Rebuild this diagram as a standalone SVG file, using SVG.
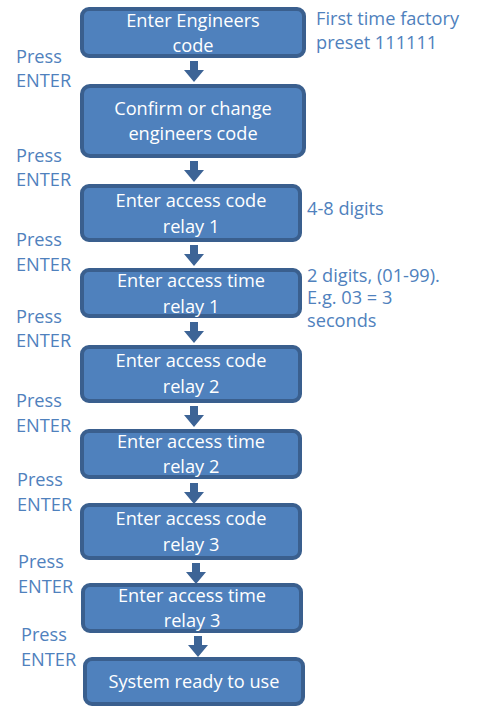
<svg xmlns="http://www.w3.org/2000/svg" width="478" height="706" viewBox="0 0 478 706">
<style>
.box{fill:#4F81BD;stroke:#3A5F8E;stroke-width:4}
.bt{font-family:"Open Sans","Liberation Sans",sans-serif;font-size:18.2px;fill:#FFFFFF;text-anchor:middle}
.lb{font-family:"Open Sans","Liberation Sans",sans-serif;font-size:18.2px;fill:#4F81BD}
.arr{fill:#3D6496}
</style>
<defs>
<path id="ar" d="M-4,0 H4 V9 H10 L0,21 L-10,9 H-4 Z"/>
</defs>
<rect width="478" height="706" fill="#FFFFFF"/>
<g id="connectors">
<use href="#ar" class="arr" x="194" y="61"/>
<use href="#ar" class="arr" x="194" y="161"/>
<use href="#ar" class="arr" x="194" y="245"/>
<use href="#ar" class="arr" x="194" y="322"/>
<use href="#ar" class="arr" x="194" y="406"/>
<use href="#ar" class="arr" x="194" y="483"/>
<use href="#ar" class="arr" x="196" y="563"/>
<use href="#ar" class="arr" x="198" y="636"/>
</g>
<g id="n1"><rect class="box" x="82" y="9" width="222" height="47" rx="7"/><text class="bt" x="193" y="27">Enter Engineers</text><text class="bt" x="193" y="52">code</text></g>
<g id="n2"><rect class="box" x="82" y="86" width="222" height="70" rx="8"/><text class="bt" x="193" y="115">Confirm or change</text><text class="bt" x="193" y="140">engineers code</text></g>
<g id="n3"><rect class="box" x="82" y="186" width="218" height="54" rx="7"/><text class="bt" x="191" y="207">Enter access code</text><text class="bt" x="191" y="233">relay 1</text></g>
<g id="n4"><rect class="box" x="82" y="270" width="218" height="46" rx="7"/><text class="bt" x="191" y="287">Enter access time</text><text class="bt" x="191" y="313">relay 1</text></g>
<g id="n5"><rect class="box" x="82" y="347" width="218" height="54" rx="7"/><text class="bt" x="191" y="367">Enter access code</text><text class="bt" x="191" y="393">relay 2</text></g>
<g id="n6"><rect class="box" x="82" y="431" width="218" height="46" rx="7"/><text class="bt" x="191" y="448">Enter access time</text><text class="bt" x="191" y="473">relay 2</text></g>
<g id="n7"><rect class="box" x="82" y="505" width="218" height="53" rx="7"/><text class="bt" x="191" y="525">Enter access code</text><text class="bt" x="191" y="551">relay 3</text></g>
<g id="n8"><rect class="box" x="83" y="585" width="218" height="46" rx="7"/><text class="bt" x="192" y="602">Enter access time</text><text class="bt" x="192" y="627">relay 3</text></g>
<g id="n9"><rect class="box" x="85" y="659" width="218" height="45" rx="7"/><text class="bt" x="194" y="688">System ready to use</text></g>
<g id="labels">
<text class="lb" x="316" y="25">First time factory</text>
<text class="lb" x="316" y="49">preset 111111</text>
<text class="lb" x="307" y="215">4-8 digits</text>
<text class="lb" x="307" y="282">2 digits, (01-99).</text>
<text class="lb" x="307" y="304">E.g. 03 = 3</text>
<text class="lb" x="307" y="327">seconds</text>
<text class="lb" x="16" y="63">Press</text><text class="lb" x="16" y="87">ENTER</text>
<text class="lb" x="16" y="162">Press</text><text class="lb" x="16" y="186">ENTER</text>
<text class="lb" x="16" y="246">Press</text><text class="lb" x="16" y="271">ENTER</text>
<text class="lb" x="16" y="323">Press</text><text class="lb" x="16" y="347">ENTER</text>
<text class="lb" x="16" y="407">Press</text><text class="lb" x="16" y="432">ENTER</text>
<text class="lb" x="17" y="486">Press</text><text class="lb" x="17" y="511">ENTER</text>
<text class="lb" x="18" y="568">Press</text><text class="lb" x="18" y="593">ENTER</text>
<text class="lb" x="21" y="641">Press</text><text class="lb" x="21" y="666">ENTER</text>
</g>
</svg>
